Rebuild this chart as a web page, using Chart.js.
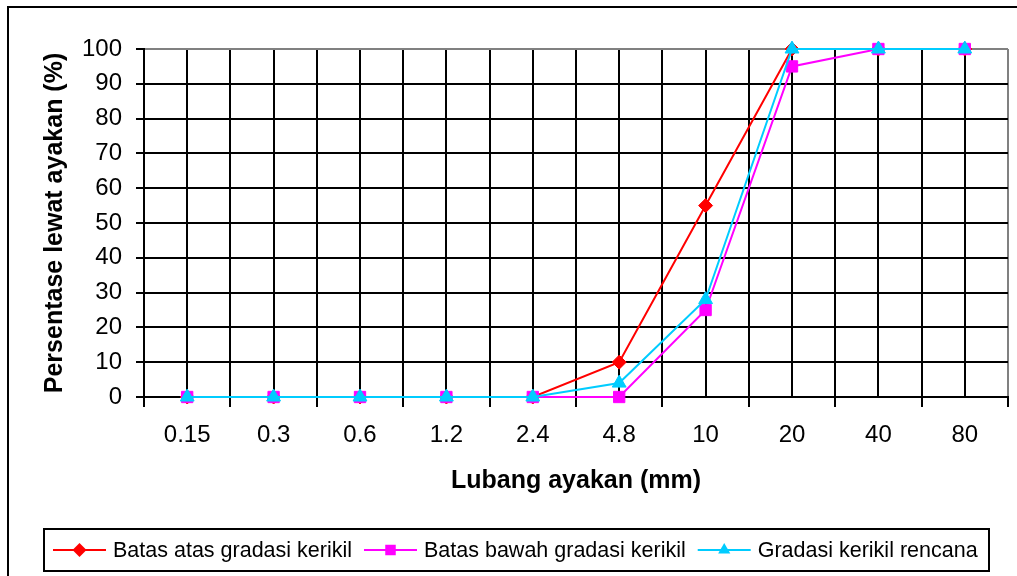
<!DOCTYPE html>
<html lang="id">
<head>
    <meta charset="UTF-8">
    <title>Gradasi kerikil</title>
    <script src="https://cdn.jsdelivr.net/npm/chart.js"></script>
    <style>
        body {
            margin: 0;
            background: #fff;
        }
        .wrap {
            width: 1017px;
            height: 576px;
        }
    </style>
</head>
<body>
    <div class="wrap">
        <canvas id="gradasiChart" width="1017" height="576"></canvas>
    </div>

    <script>
        // data
        const categories = ['0.15', '0.3', '0.6', '1.2', '2.4', '4.8', '10', '20', '40', '80'];
        const batasAtas = [0, 0, 0, 0, 0, 10, 55, 100, 100, 100];
        const batasBawah = [0, 0, 0, 0, 0, 0, 25, 95, 100, 100];
        const gradasiRencana = [0, 0, 0, 0, 0, 4, 28, 100, 100, 100];

        const seriesNames = ['Batas atas gradasi kerikil', 'Batas bawah gradasi kerikil', 'Gradasi kerikil rencana'];
        const seriesColors = ['#FF0000', '#FF00FF', '#00CCFF'];
        const seriesMarkers = ['rectRot', 'rect', 'triangle'];

        const FONT = "'Liberation Sans', Arial, sans-serif";

        function toPoints(values) {
            return values.map((v, i) => ({ x: i, y: v }));
        }

        function drawMarker(ctx, style, x, y, r, color) {
            ctx.save();
            ctx.fillStyle = color;
            ctx.beginPath();
            if (style === 'rectRot') {
                ctx.moveTo(x, y - r);
                ctx.lineTo(x + r, y);
                ctx.lineTo(x, y + r);
                ctx.lineTo(x - r, y);
            } else if (style === 'rect') {
                const s = r * 0.75;
                ctx.rect(x - s, y - s, s * 2, s * 2);
            } else {
                ctx.moveTo(x, y - r);
                ctx.lineTo(x + r * 0.87, y + r * 0.5);
                ctx.lineTo(x - r * 0.87, y + r * 0.5);
            }
            ctx.closePath();
            ctx.fill();
            ctx.restore();
        }

        // outer frame + boxed legend like the spreadsheet original
        const framePlugin = {
            id: 'frame',
            beforeDraw(chart) {
                const ctx = chart.ctx;
                ctx.save();
                ctx.strokeStyle = '#000';
                ctx.lineWidth = 2;
                ctx.beginPath();
                ctx.moveTo(8, 576);
                ctx.lineTo(8, 7);
                ctx.lineTo(1017, 7);
                ctx.stroke();
                ctx.restore();
            },
            afterDraw(chart) {
                const ctx = chart.ctx;
                ctx.save();
                ctx.strokeStyle = '#000';
                ctx.lineWidth = 2;
                ctx.strokeRect(44, 529, 945, 42);

                ctx.font = '21.5px ' + FONT;
                ctx.textBaseline = 'middle';
                ctx.textAlign = 'left';
                const y = 550;
                let x = 53;
                chart.data.datasets.forEach((ds) => {
                    ctx.strokeStyle = ds.borderColor;
                    ctx.lineWidth = 2;
                    ctx.beginPath();
                    ctx.moveTo(x, y);
                    ctx.lineTo(x + 53, y);
                    ctx.stroke();
                    drawMarker(ctx, ds.pointStyle, x + 26.5, y, 7, ds.borderColor);
                    ctx.fillStyle = '#000';
                    ctx.fillText(ds.label, x + 60, y + 1);
                    x += 60 + ctx.measureText(ds.label).width + 12;
                });
                ctx.restore();
            }
        };

        const ctx = document.getElementById('gradasiChart').getContext('2d');
        new Chart(ctx, {
            type: 'line',
            data: {
                datasets: [{
                    label: seriesNames[0],
                    data: toPoints(batasAtas),
                    borderColor: seriesColors[0],
                    backgroundColor: seriesColors[0],
                    pointStyle: seriesMarkers[0],
                    pointRadius: 7,
                    order: 2
                }, {
                    label: seriesNames[1],
                    data: toPoints(batasBawah),
                    borderColor: seriesColors[1],
                    backgroundColor: seriesColors[1],
                    pointStyle: seriesMarkers[1],
                    pointRadius: 8,
                    order: 1
                }, {
                    label: seriesNames[2],
                    data: toPoints(gradasiRencana),
                    borderColor: seriesColors[2],
                    backgroundColor: seriesColors[2],
                    pointStyle: seriesMarkers[2],
                    pointRadius: 8,
                    order: 0
                }]
            },
            options: {
                responsive: false,
                animation: false,
                clip: false,
                layout: {
                    padding: { top: 49, right: 7, bottom: 79, left: 0 }
                },
                elements: {
                    line: { borderWidth: 2, tension: 0 },
                    point: { borderWidth: 1 }
                },
                plugins: {
                    legend: { display: false },
                    tooltip: { enabled: false }
                },
                scales: {
                    x: {
                        type: 'linear',
                        min: -0.5,
                        max: 9.5,
                        afterFit(scale) {
                            scale.height = 100;
                            scale.paddingLeft = 0;
                            scale.paddingRight = 0;
                        },
                        ticks: {
                            stepSize: 0.5,
                            autoSkip: false,
                            maxRotation: 0,
                            padding: 14,
                            color: '#000',
                            font: { family: FONT, size: 24 },
                            callback: (value) => Number.isInteger(value) ? categories[value] : ''
                        },
                        grid: {
                            lineWidth: 2,
                            color: (c) => c.tick && c.tick.value === 9.5 ? '#808080' : '#000',
                            tickColor: (c) => c.tick && !Number.isInteger(c.tick.value) ? '#000' : 'rgba(0,0,0,0)',
                            tickLength: 10
                        },
                        border: { color: '#000', width: 2 },
                        title: {
                            display: true,
                            text: 'Lubang ayakan (mm)',
                            color: '#000',
                            font: { family: FONT, size: 25, weight: 'bold' },
                            padding: { top: 0, bottom: 1 }
                        }
                    },
                    y: {
                        min: 0,
                        max: 100,
                        afterFit(scale) {
                            scale.width = 144;
                            scale.paddingTop = 0;
                            scale.paddingBottom = 0;
                        },
                        ticks: {
                            stepSize: 10,
                            padding: 14,
                            color: '#000',
                            font: { family: FONT, size: 24 }
                        },
                        grid: {
                            lineWidth: 2,
                            color: (c) => c.tick && c.tick.value === 100 ? '#808080' : '#000',
                            tickColor: '#000',
                            tickLength: 8
                        },
                        border: { color: '#000', width: 2 },
                        title: {
                            display: true,
                            text: 'Persentase lewat ayakan (%)',
                            color: '#000',
                            font: { family: FONT, size: 25, weight: 'bold' },
                            padding: { top: 40, bottom: 0 }
                        }
                    }
                }
            },
            plugins: [framePlugin]
        });
    </script>
</body>
</html>
